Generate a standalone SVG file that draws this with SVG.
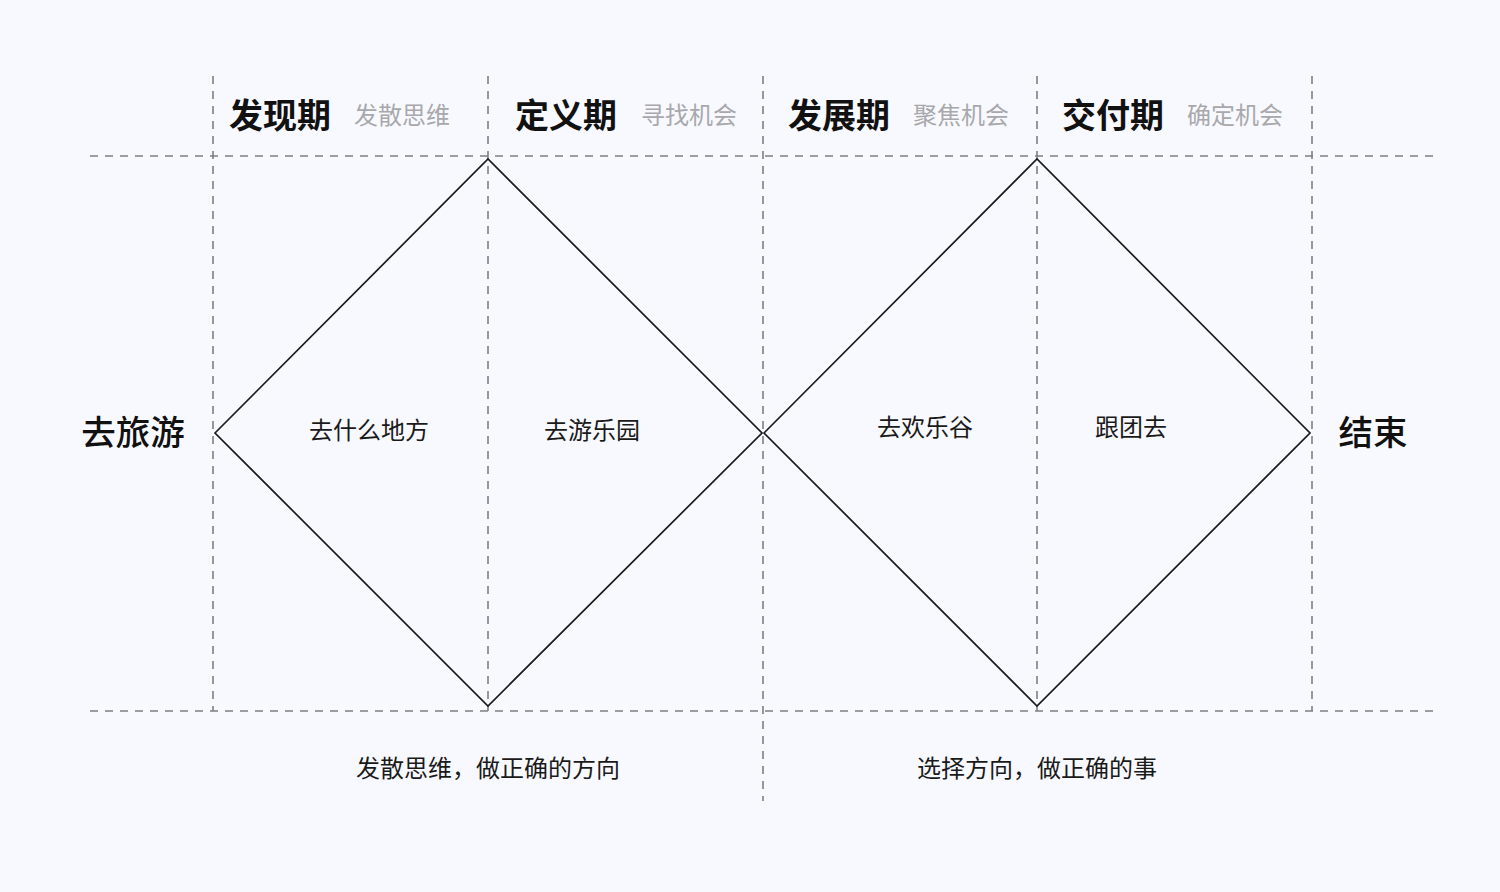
<svg xmlns="http://www.w3.org/2000/svg" width="1500" height="892" viewBox="0 0 1500 892">
<style>
.grid{stroke:#7e7e84;stroke-width:1.6;stroke-dasharray:8 7;fill:none}
.dia{stroke:#1a1a1a;stroke-width:1.7;fill:none;stroke-linejoin:miter}
text{font-family:"Noto Sans CJK SC","Noto Sans",sans-serif}
.h{font-size:34px;font-weight:700;fill:#111}
.s{font-size:24px;fill:#a8a8ac}
.side{font-size:34.5px;font-weight:500;fill:#111}
.lbl{font-size:24px;fill:#1a1a1a;text-anchor:middle}
.bot{font-size:24px;fill:#1a1a1a;text-anchor:middle}
</style>
<rect width="1500" height="892" fill="#F8F9FE"/>
<g id="connectors">
<line class="grid" x1="90" y1="156" x2="1437" y2="156"/>
<line class="grid" x1="90" y1="711" x2="1437" y2="711"/>
<line class="grid" x1="213" y1="76" x2="213" y2="711"/>
<line class="grid" x1="488" y1="76" x2="488" y2="711"/>
<line class="grid" x1="763" y1="76" x2="763" y2="801"/>
<line class="grid" x1="1037" y1="76" x2="1037" y2="711"/>
<line class="grid" x1="1312" y1="76" x2="1312" y2="711"/>
</g>
<g id="diamond1">
<polygon class="dia" points="215,433 488,159 762,433 488,706"/>
</g>
<g id="diamond2">
<polygon class="dia" points="764,433 1037,159 1310,433 1037,706"/>
</g>
<g id="headers">
<text class="h" x="229" y="128">发现期</text>
<text class="s" x="354" y="124">发散思维</text>
<text class="h" x="515" y="128">定义期</text>
<text class="s" x="641" y="124">寻找机会</text>
<text class="h" x="788" y="128">发展期</text>
<text class="s" x="913" y="124">聚焦机会</text>
<text class="h" x="1062" y="128">交付期</text>
<text class="s" x="1187" y="124">确定机会</text>
</g>
<g id="start"><text class="side" x="133" y="445" text-anchor="middle">去旅游</text></g>
<g id="end"><text class="side" x="1373" y="445" text-anchor="middle">结束</text></g>
<g id="labels">
<text class="lbl" x="369" y="439">去什么地方</text>
<text class="lbl" x="592" y="439">去游乐园</text>
<text class="lbl" x="925" y="436">去欢乐谷</text>
<text class="lbl" x="1131" y="436">跟团去</text>
</g>
<g id="bottom">
<text class="bot" x="488" y="777">发散思维，做正确的方向</text>
<text class="bot" x="1037" y="777">选择方向，做正确的事</text>
</g>
</svg>
